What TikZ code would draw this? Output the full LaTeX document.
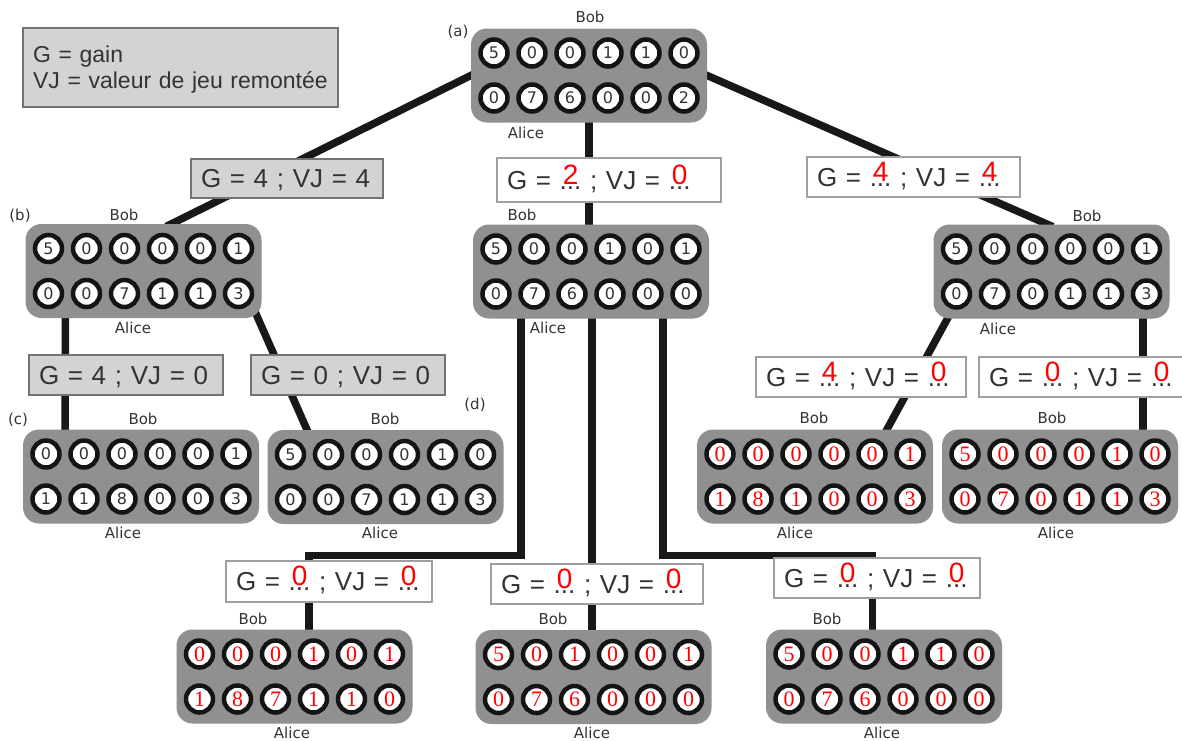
\documentclass[tikz,border=0pt]{standalone}
\usepackage{fontspec}
\setmainfont{Liberation Sans}
\newfontfamily\pitfont{DejaVu Sans}
\newfontfamily\serifdigits{Liberation Serif}
\usetikzlibrary{calc,backgrounds}

\definecolor{boardgray}{RGB}{144,144,146}
\definecolor{labelgray}{RGB}{211,211,213}
\definecolor{framegray}{RGB}{115,115,115}
\definecolor{inkgray}{RGB}{51,51,51}
\definecolor{wireblack}{RGB}{24,24,24}

% a "..." with a red value written above it
\newsavebox\blankbox
\newcommand\blank[1]{\sbox\blankbox{...}\rlap{\smash{\makebox[\wd\blankbox]{\raisebox{5pt}{\fontsize{28}{28}\selectfont\color{red}#1}}}}\usebox\blankbox}

% a board: name, centre, Bob's row, Alice's row, digit style
\newcommand\gameboard[5]{%
  \node[boardbox] (#1) at (#2) {};
  \foreach \d [count=\i] in {#3}
    \node[pit,#5] (#1-t\i) at ($(#1.center)+({(\i-3.5)*38},-22.5)$) {\d};
  \foreach \d [count=\i] in {#4}
    \node[pit,#5] (#1-b\i) at ($(#1.center)+({(\i-3.5)*38},22.5)$) {\d};
}

\tikzset{
  boardbox/.style={rectangle, rounded corners=16pt, fill=boardgray,
    minimum width=236pt, minimum height=94pt, inner sep=0pt},
  pit/.style={circle, draw=black!92, line width=4.5pt, fill=white,
    minimum size=27pt, inner sep=0pt, text=inkgray,
    font=\pitfont\fontsize{16}{16}\selectfont},
  plainpit/.style={},
  redpit/.style={font=\serifdigits\fontsize{22}{22}\selectfont, text=red},
  player/.style={text=inkgray, font=\pitfont\fontsize{15}{15}\selectfont, inner sep=0pt},
  boardtag/.style={text=inkgray, font=\pitfont\fontsize{15}{15}\selectfont, inner sep=0pt},
  lbl/.style={line width=1.2pt, text=inkgray, font=\fontsize{26}{30}\selectfont,
    align=left, inner xsep=10pt, inner ysep=0pt},
  lblgray/.style={lbl, draw=framegray, fill=labelgray, text depth=0pt},
  lblwhite/.style={lbl, draw=gray!75, fill=white, text depth=0pt},
  legendbox/.style={lbl, draw=framegray, fill=labelgray, text depth=26pt,
    font=\fontsize{23}{26}\selectfont},
  wire/.style={draw=wireblack, line width=7.5pt, shorten <=-6pt, shorten >=-6pt}
}

\begin{document}
\begin{tikzpicture}[x=1pt, y=-1pt]
\useasboundingbox (0,0) rectangle (1182,740);

% legend
\node[legendbox, text width=295pt, minimum height=79pt] (legend) at (180.5,67.5)
  {G = gain\\VJ = valeur de jeu remontée};

% boards
\gameboard{A}{589,75.5}{5,0,0,1,1,0}{0,7,6,0,0,2}{plainpit}
\gameboard{B}{143.5,271}{5,0,0,0,0,1}{0,0,7,1,1,3}{plainpit}
\gameboard{M}{591,271.5}{5,0,0,1,0,1}{0,7,6,0,0,0}{plainpit}
\gameboard{R}{1051.5,271.5}{5,0,0,0,0,1}{0,7,0,1,1,3}{plainpit}
\gameboard{C}{141,476.5}{0,0,0,0,0,1}{1,1,8,0,0,3}{plainpit}
\gameboard{D}{385.5,477}{5,0,0,0,1,0}{0,0,7,1,1,3}{plainpit}
\gameboard{R1}{815,476.5}{0,0,0,0,0,1}{1,8,1,0,0,3}{redpit}
\gameboard{R2}{1060,476.5}{5,0,0,0,1,0}{0,7,0,1,1,3}{redpit}
\gameboard{P1}{294.5,676.5}{0,0,0,1,0,1}{1,8,7,1,1,0}{redpit}
\gameboard{P2}{593.5,677}{5,0,1,0,0,1}{0,7,6,0,0,0}{redpit}
\gameboard{P3}{884,676.5}{5,0,0,1,1,0}{0,7,6,0,0,0}{redpit}

% players
\node[player] (A-bob) at (590,17) {Bob};   \node[player] (A-alice) at (526,133) {Alice};
\node[player] (B-bob) at (124,215) {Bob};  \node[player] (B-alice) at (133,328) {Alice};
\node[player] (M-bob) at (522,215) {Bob};  \node[player] (M-alice) at (548,328) {Alice};
\node[player] (R-bob) at (1087,216) {Bob}; \node[player] (R-alice) at (998,329) {Alice};
\node[player] (C-bob) at (143,419) {Bob};  \node[player] (C-alice) at (123,533) {Alice};
\node[player] (D-bob) at (385,419) {Bob};  \node[player] (D-alice) at (380,533) {Alice};
\node[player] (R1-bob) at (814,418) {Bob}; \node[player] (R1-alice) at (795,533) {Alice};
\node[player] (R2-bob) at (1052,418) {Bob};\node[player] (R2-alice) at (1056,533) {Alice};
\node[player] (P1-bob) at (253,619) {Bob}; \node[player] (P1-alice) at (292,733) {Alice};
\node[player] (P2-bob) at (553,619) {Bob}; \node[player] (P2-alice) at (592,733) {Alice};
\node[player] (P3-bob) at (827,619) {Bob}; \node[player] (P3-alice) at (882,733) {Alice};

% board tags
\node[boardtag] (tag-a) at (458,32) {(a)};
\node[boardtag] (tag-b) at (20,216) {(b)};
\node[boardtag] (tag-c) at (18,420) {(c)};
\node[boardtag] (tag-d) at (475,405) {(d)};

% gain / value labels
\node[lblgray, text width=172pt, minimum height=39pt] (gAB) at (287,178.5) {G = 4 ; VJ = 4};
\node[lblwhite, text width=204pt, minimum height=44pt] (gAM) at (609,180) {G = \blank{2} ; VJ = \blank{0}};
\node[lblwhite, text width=193pt, minimum height=40pt] (gAR) at (913.5,177) {G = \blank{4} ; VJ = \blank{4}};
\node[lblgray, text width=174pt, minimum height=40pt] (gBC) at (126,375) {G = 4 ; VJ = 0};
\node[lblgray, text width=174pt, minimum height=40pt] (gBD) at (348,375) {G = 0 ; VJ = 0};
\node[lblwhite, text width=190pt, minimum height=40pt] (gRR1) at (861,377) {G = \blank{4} ; VJ = \blank{0}};
\node[lblwhite, text width=191pt, minimum height=40pt] (gRR2) at (1084.5,377) {G = \blank{0} ; VJ = \blank{0}};
\node[lblwhite, text width=186pt, minimum height=41pt] (gMP1) at (329,581.5) {G = \blank{0} ; VJ = \blank{0}};
\node[lblwhite, text width=192pt, minimum height=40pt] (gMP2) at (597,584) {G = \blank{0} ; VJ = \blank{0}};
\node[lblwhite, text width=186pt, minimum height=40pt] (gMP3) at (877,578) {G = \blank{0} ; VJ = \blank{0}};

% connectors, behind boards and labels
\begin{pgfonlayer}{background}
  \fill[white] (0,0) rectangle (1182,740);
  \draw[wire] (A.west) -- ($(B.north)+(28,0)$);
  \draw[wire] (A.south) -- (A.south |- M.north);
  \draw[wire] (A.east) -- ($(R.north)+(-4,0)$);
  \draw[wire] ($(B.south)+(-78,0)$) -- ($(C.north)+(-76,0)$);
  \draw[wire] ($(B.south east)+(-9.5,-13)$) -- ($(D.north)+(-78.5,0)$);
  \coordinate (m1) at ($(M.south)+(-70,0)$);
  \coordinate (m2) at ($(M.south)+(1,0)$);
  \coordinate (m3) at ($(M.south)+(72,0)$);
  \draw[wire] (m1) -- ++(0,237) -| ($(P1.north)+(14.5,0)$);
  \draw[wire] (m2) -- (m2 |- P2.north);
  \draw[wire] (m3) -- ++(0,237) -| ($(P3.north)+(-11.5,0)$);
  \draw[wire] ($(R.south west)+(18.5,-8)$) -- ($(R1.north)+(72,0)$);
  \coordinate (r2) at ($(R.south)+(91.5,0)$);
  \draw[wire] (r2) -- (r2 |- R2.north);
\end{pgfonlayer}
\end{tikzpicture}
\end{document}
